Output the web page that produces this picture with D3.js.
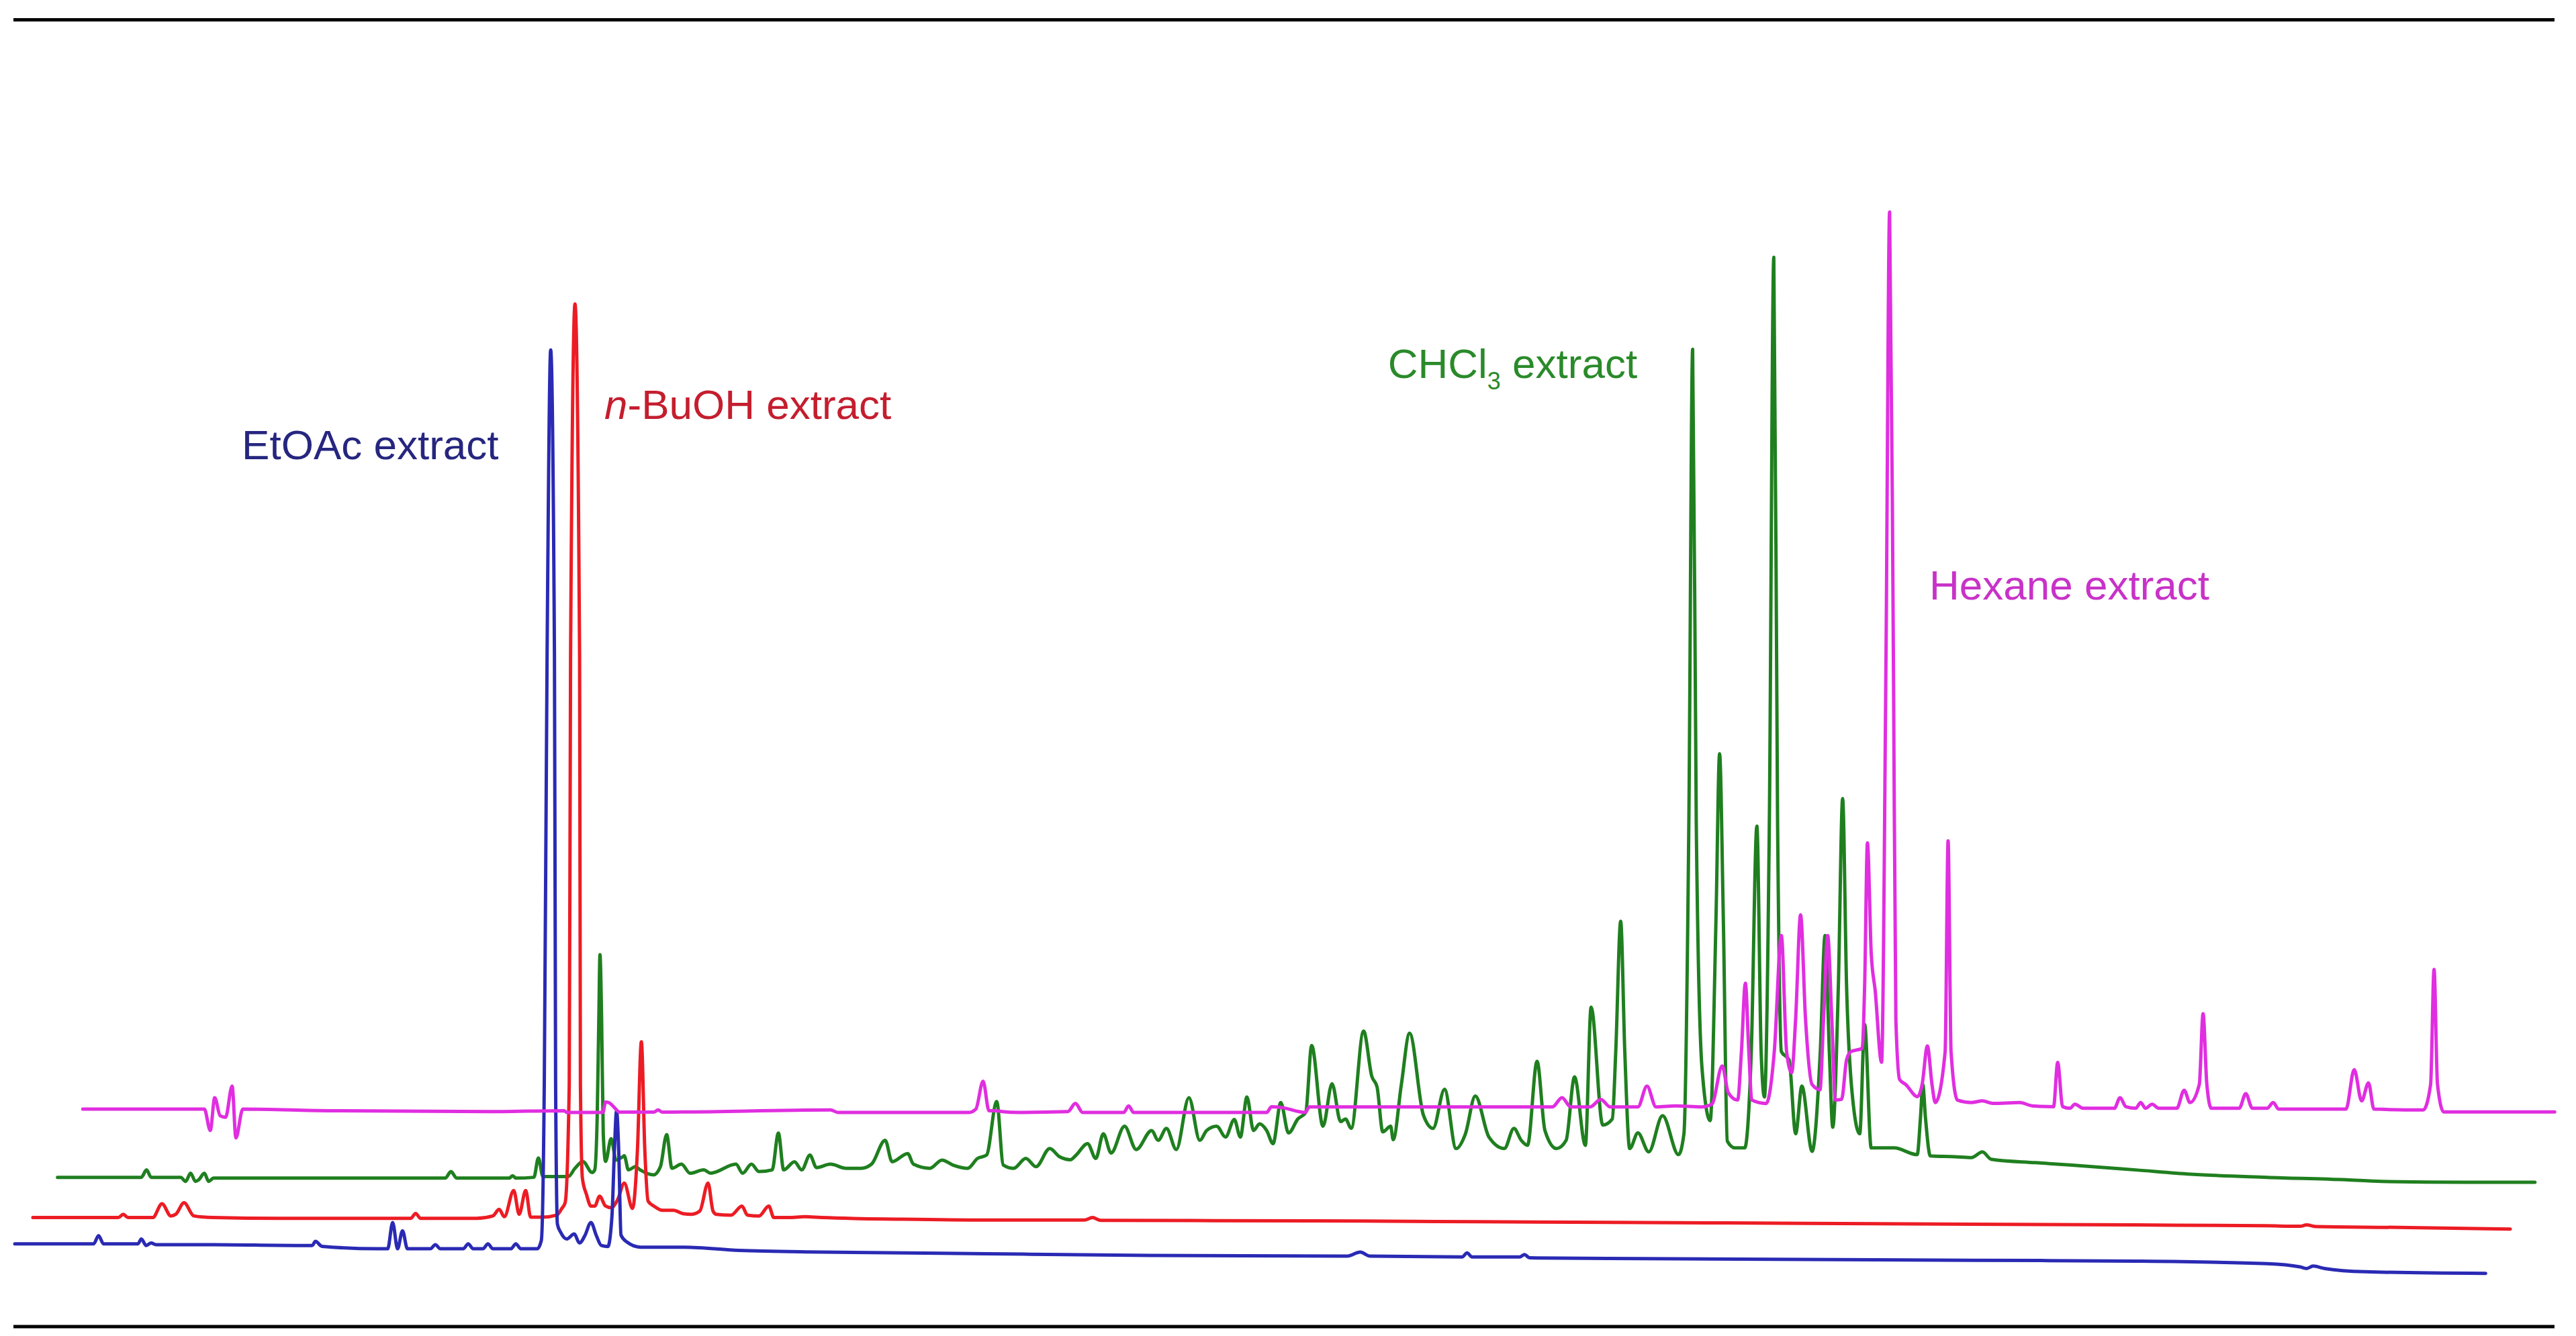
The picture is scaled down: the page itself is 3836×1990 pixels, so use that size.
<!DOCTYPE html>
<html>
<head>
<meta charset="utf-8">
<script src="https://cdn.jsdelivr.net/npm/d3@7"></script>
<style>
  html, body { margin: 0; padding: 0; background: #ffffff; }
  svg { display: block; }
</style>
</head>
<body>
<script>
// Retention index (arbitrary time units) vs detector response (arbitrary units), stacked chromatograms
const etoac = [[9,43],[57,43],[60,48],[63,43],[84,43],[86,46],[89,42],[92,43.5],[95,42.5],[130,42.5],[180,42],[190,42],[192,44.5],[196,41.5],[230,40],[236,40],[239,56],[242,40],[245,51],[248,40],[262,40],[265,42.5],[268,40],[282,40],[285,43],[288,40],[294,40],[297,43],[300,40],[311,40],[314,43],[317,40],[327,40],[329.5,45],[331.3,140],[333,400],[335.2,587],[337.5,400],[338.2,140],[339.3,55],[341.3,50],[345,46],[349.5,49],[352.8,43.5],[356,48],[359.7,56],[363,48],[366,42],[370,41.4],[372.5,60],[374,100],[375.3,124],[376.6,100],[378,48.3],[381.5,44.2],[389.7,41],[417,41],[450,39],[500,38],[600,37],[700,36],[820,35.5],[828,38],[834,35.5],[890,35],[893,37.5],[896,35],[925,35],[928,36.5],[931,34.5],[1000,34],[1100,33.5],[1200,33],[1300,32.5],[1380,31],[1400,29],[1404,28],[1408,29.5],[1415,28],[1440,26],[1513,25]];

const nbuoh = [[20,59],[60,59],[72,59],[75,61],[78,59],[93,59],[98.6,67.4],[104,60],[107,61],[112,68],[118,60],[130,59],[170,58.5],[250,58.5],[253,61.5],[256,58.5],[290,58.5],[300,60],[303.8,64],[307,59.5],[312.7,75.5],[316,61],[320,75.5],[323,59.2],[330,59.2],[339,60.5],[342,64.6],[344,68],[346.5,140],[347.3,400],[350,615],[352.8,400],[353.3,140],[354.5,83],[357,73],[359.7,66],[362,66],[365,72],[368.6,66],[372,65],[376,70],[380,80],[385,64.6],[388,100],[390.4,166],[392.5,100],[394.5,69],[398,66],[403.3,63.4],[410,63.4],[415.7,61.4],[421,61],[426,63],[431,80],[434,63],[436,61],[445,60.5],[451.6,66],[455,60.5],[462,60],[468,66],[471,59],[480,59],[490,59.5],[500,59],[550,58],[600,57.5],[660,57.5],[665,59],[670,57.3],[800,57],[900,56.5],[1000,56],[1100,55.5],[1200,55],[1300,54.5],[1380,54],[1400,53.7],[1404,54.5],[1410,53.5],[1460,53],[1528,52]];

const chcl3 = [[35,83.5],[86,83.5],[89.2,88],[92,83.5],[110,83.5],[113,81],[116,86],[119,81],[121,82],[124.4,86],[127,81],[130,83],[271,83],[274.5,87],[278,83],[310,83],[312,84.5],[314,83],[325,83.5],[327.7,95.3],[330.5,84],[346,84],[350,89],[354.8,93.2],[360.4,86.4],[362,88],[363.5,120],[364.5,180],[365.2,219],[366.2,180],[367.2,110],[368.6,93.2],[372,107],[375,94],[379,96],[380,96.6],[382.5,88],[386.7,90],[389.7,88],[397.8,85],[402,90],[405.8,109.5],[409,89],[414.8,91.5],[420,86],[428.4,88],[432.5,86],[448,91.5],[452,86],[457.4,91.5],[462,87],[470,88],[473.8,110.4],[477,88],[483.6,93],[488,88],[493,97],[497,89.4],[505.5,91.5],[515,89],[524.3,89],[530.5,91.5],[538.8,106],[543,93],[552.5,98],[556,91.5],[566,89],[573.4,94],[580,91],[589,89],[595,95],[600.5,97],[606.7,129.6],[610.7,91],[617,89],[624.4,95],[630.6,90],[639,101],[645,96],[651.5,94.2],[655,97],[662,104],[667,95],[671.6,110],[676.3,98.3],[684.5,114.6],[691.6,100.4],[701,112],[705,106],[710,113.3],[716,100.4],[723.7,132],[730.3,106],[734.5,112],[740.6,114.6],[746,108],[751.3,118.7],[755,108],[759,132.4],[763,112],[766.7,116],[771,112],[774.9,104],[779.6,129],[784.3,110.5],[790,119],[794.8,123],[798.4,163.7],[805.3,114.6],[810.8,140.5],[816,117.4],[819,119],[822.5,113.3],[830,172.5],[835,145],[838.2,138.5],[841.7,111.2],[846.5,114.6],[848,106.4],[853,140],[858,171.2],[866.4,121.4],[872.3,113.3],[879.3,137.1],[886.3,101],[892,110],[898,133],[906.3,108],[915.7,101],[921.5,113.3],[926,106],[929.8,103],[935.6,154.1],[940.4,112],[947.4,101],[953.3,106],[958.4,144.6],[965,103],[968.5,187],[975.6,115.3],[981.4,119],[983.5,160],[986.5,239.3],[989,160],[992,101],[997,110.5],[1003.6,99],[1012,121],[1021.7,97.3],[1025,110],[1028,300],[1030.3,587.4],[1032.5,300],[1036,150],[1041,118],[1044.5,240],[1046.7,341.3],[1049,240],[1051.4,105.5],[1056,101.4],[1062,101.4],[1066,160],[1069.4,297.2],[1072,160],[1074,132.4],[1077,300],[1079.7,643.4],[1082,300],[1084.3,160],[1089,155],[1093,110],[1096.8,139],[1103,99.3],[1108,160],[1110.9,230.6],[1113.5,160],[1115.6,114],[1119,200],[1121.6,314],[1124,200],[1127.4,134.5],[1132,110],[1135,176.5],[1139,101.4],[1153,101.4],[1167,97.3],[1169,120],[1170.4,140],[1172,120],[1175,96.5],[1190,96],[1200,95.5],[1206.7,99],[1212,94.5],[1239,92.4],[1260,91],[1300,88],[1333.5,85.4],[1380,83.5],[1428,82],[1450,81],[1500,80.5],[1543,80.5]];

const hexane = [[50.4,125],[124.4,125],[128,112],[130.7,132],[134,121],[137.3,120],[141.3,139],[143.6,107.5],[147.8,125],[200,124],[300,123.5],[343.4,124],[345,123],[367,123],[368.6,129.3],[370.6,129],[374.7,125.2],[377,123.2],[398,123.2],[400.6,124.5],[403,123.2],[505.6,124.5],[510,123],[590,123],[594,125],[598.4,142],[602,124],[607,124],[610,123.5],[620,123],[650,123.5],[654.6,128.5],[659,123],[684,123],[687,127],[690,123],[771,123],[774,126.5],[780,126],[794.6,123],[797,126.4],[945,126.4],[950.8,132],[956,126.4],[968,126.4],[974.4,131],[980,126.4],[997,126.4],[1002.5,139],[1008,126.4],[1020,127],[1035.8,126.4],[1042,128],[1048.3,151.3],[1052,135],[1057.7,130.5],[1060,160],[1062.4,201.6],[1064.5,160],[1066.3,130.5],[1075,128.4],[1080,160],[1084.3,230.6],[1087.5,160],[1090.6,147.2],[1093,180],[1096,243.2],[1099,180],[1103,140],[1107.8,136.8],[1110,180],[1112.5,230.6],[1115,180],[1117.2,130.5],[1121,131],[1124,155],[1126.6,160],[1133.5,162],[1135,200],[1136.7,287],[1139,220],[1141.4,197.3],[1145.3,153.5],[1148,400],[1150.2,671],[1152.5,400],[1154,180],[1156.3,143],[1160,140],[1167.2,132.6],[1170,140],[1173.2,163.4],[1176,140],[1178,129],[1184,160],[1185.8,288.3],[1187.6,160],[1191.5,130.5],[1200,129],[1206.7,130],[1213,128.5],[1229.5,129],[1237,127],[1250,126.5],[1252.5,153.4],[1255.5,126.5],[1260,125.5],[1263,128],[1268,125.5],[1287,125.5],[1290.5,132],[1294,126.5],[1300,125.5],[1303,129],[1306,125.5],[1310,128],[1314,125.5],[1325,125.5],[1329.5,136.5],[1333,129],[1338.7,140],[1341,183],[1343.3,140],[1346,125.5],[1363,125.5],[1367,134.4],[1371,125.5],[1380,125.5],[1383.7,129],[1387,125],[1428,125],[1433,149],[1437.5,130],[1441.7,141],[1445,125],[1475,124.5],[1479.5,140],[1481.6,210],[1483.7,140],[1487.5,123.3],[1555,123.3]];

const seriesNames = ["CHCl3 extract", "n-BuOH extract", "EtOAc extract", "Hexane extract"];
const seriesData = [chcl3, nbuoh, etoac, hexane];
const lineColors = ["#1f7f1f", "#ec1c24", "#2a2ab4", "#e02ee0"];
const textColors = ["#2a8a2a", "#c41e2e", "#262680", "#c832c8"];
// label anchors in data coordinates [time, response]
const labelAnchors = [[844.8, 570], [367.9, 545.1], [147.2, 520.6], [1174.4, 435.2]];

const W = 3836, H = 1990;
const x = d3.scaleLinear().domain([0, 1568]).range([0, W]);
const y = d3.scaleLinear().domain([0, 800]).range([1958, 0]);

const svg = d3.select("body").append("svg")
  .attr("width", W).attr("height", H)
  .attr("viewBox", `0 0 ${W} ${H}`);

svg.append("rect").attr("width", W).attr("height", H).attr("fill", "#ffffff");

// frame rules
svg.append("line").attr("x1", 20).attr("x2", 3804).attr("y1", 29.5).attr("y2", 29.5)
  .attr("stroke", "#000").attr("stroke-width", 5);
svg.append("line").attr("x1", 20).attr("x2", 3804).attr("y1", 1976).attr("y2", 1976)
  .attr("stroke", "#000").attr("stroke-width", 5);

const line = d3.line().x(d => x(d[0])).y(d => y(d[1])).curve(d3.curveMonotoneX);

svg.append("g").selectAll("path")
  .data(seriesData)
  .join("path")
  .attr("d", line)
  .attr("fill", "none")
  .attr("stroke", (d, i) => lineColors[i])
  .attr("stroke-width", 5)
  .attr("stroke-linejoin", "round")
  .attr("stroke-linecap", "round");

// labels
const font = "'Liberation Sans', Arial, Helvetica, sans-serif";
const labels = svg.append("g").attr("font-family", font).attr("font-size", 62);

seriesNames.forEach((name, i) => {
  const t = labels.append("text")
    .attr("x", x(labelAnchors[i][0]))
    .attr("y", y(labelAnchors[i][1]))
    .attr("fill", textColors[i]);
  if (name.startsWith("n-")) {
    t.append("tspan").attr("font-style", "italic").text("n");
    t.append("tspan").text(name.slice(1));
  } else if (name.startsWith("CHCl3")) {
    t.append("tspan").text("CHCl");
    t.append("tspan").attr("font-size", 36).attr("dy", 17).text("3");
    t.append("tspan").attr("dy", -17).text(name.slice(5));
  } else {
    t.text(name);
  }
});
</script>
</body>
</html>
